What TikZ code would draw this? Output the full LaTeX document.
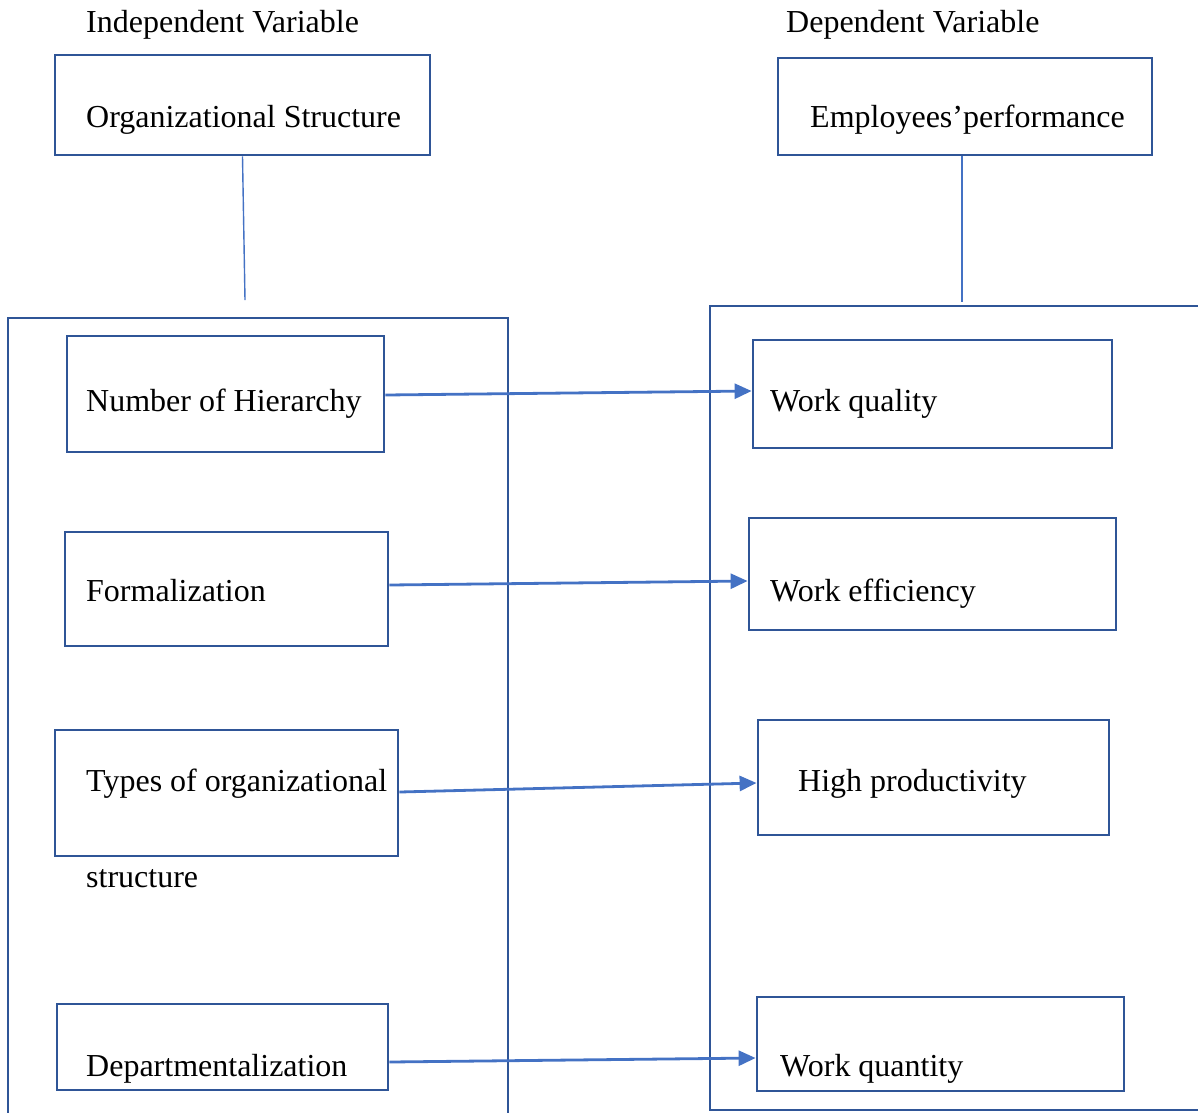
\documentclass[tikz,border=0pt]{standalone}
\usepackage{fontspec}
\setmainfont{Liberation Serif}
\usetikzlibrary{arrows.meta}
\definecolor{boxblue}{HTML}{2F5597}
\definecolor{arrowblue}{HTML}{4472C4}
\begin{document}
\begin{tikzpicture}[
    x=1pt, y=-1pt,
    box/.style={draw=boxblue, line width=2.8pt, rectangle, inner sep=0pt},
    frame/.style={draw=boxblue, line width=2.8pt},
    link/.style={draw=arrowblue, line width=1.4pt},
    flow/.style={draw=arrowblue, line width=2.8pt, -{Triangle[length=17pt,width=15pt]}},
    txt/.style={anchor=base west, inner sep=0pt, font=\fontsize{32}{38}\selectfont}
]
\useasboundingbox (0,0) rectangle (1198,1112);
\clip (0,0) rectangle (1198,1112);

% headings
\node[txt] (indep) at (86,32) {Independent Variable};
\node[txt] (dep) at (786,32) {Dependent Variable};

% top boxes
\node[box, minimum width=375, minimum height=100] (os) at (242.5,105) {};
\node[txt] at (86,127) {Organizational Structure};
\node[box, minimum width=374, minimum height=97] (ep) at (965,106.5) {};
\node[txt] at (810,127) {Employees’performance};

\coordinate (osend) at (245,300);
\coordinate (epend) at (962,302);
\draw[link] (os.south) -- (osend);
\draw[link] (ep.south -| epend) -- (epend);

% frames
\draw[frame] (8,1130) -- (8,318) -- (508,318) -- (508,1130);
\draw[frame] (1220,306) -- (710,306) -- (710,1110) -- (1220,1110);

% left column
\node[box, minimum width=317, minimum height=116] (noh) at (225.5,394) {};
\node[txt] at (86,411) {Number of Hierarchy};
\node[box, minimum width=323, minimum height=114] (form) at (226.5,589) {};
\node[txt] at (86,601) {Formalization};
\node[box, minimum width=343, minimum height=126] (types) at (226.5,793) {};
\node[txt] at (86,791) {Types of organizational};
\node[txt] at (86,887) {structure};
\node[box, minimum width=331, minimum height=86] (dept) at (222.5,1047) {};
\node[txt] at (86,1076) {Departmentalization};

% right column
\node[box, minimum width=359, minimum height=108] (wql) at (932.5,394) {};
\node[txt] at (770,411) {Work quality};
\node[box, minimum width=367, minimum height=112] (weff) at (932.5,574) {};
\node[txt] at (770,601) {Work efficiency};
\node[box, minimum width=351, minimum height=115] (hprod) at (933.5,777.5) {};
\node[txt] at (798,791) {High productivity};
\node[box, minimum width=367, minimum height=94] (wqn) at (940.5,1044) {};
\node[txt] at (780,1076) {Work quantity};

% arrows
\draw[flow] ([yshift=-1]noh.east) -- ([yshift=3]wql.west);
\draw[flow] ([yshift=4]form.east) -- ([yshift=-7]weff.west);
\draw[flow] ([yshift=1]types.east) -- ([yshift=-5.5]hprod.west);
\draw[flow] ([yshift=-15]dept.east) -- ([yshift=-14]wqn.west);
\end{tikzpicture}
\end{document}
